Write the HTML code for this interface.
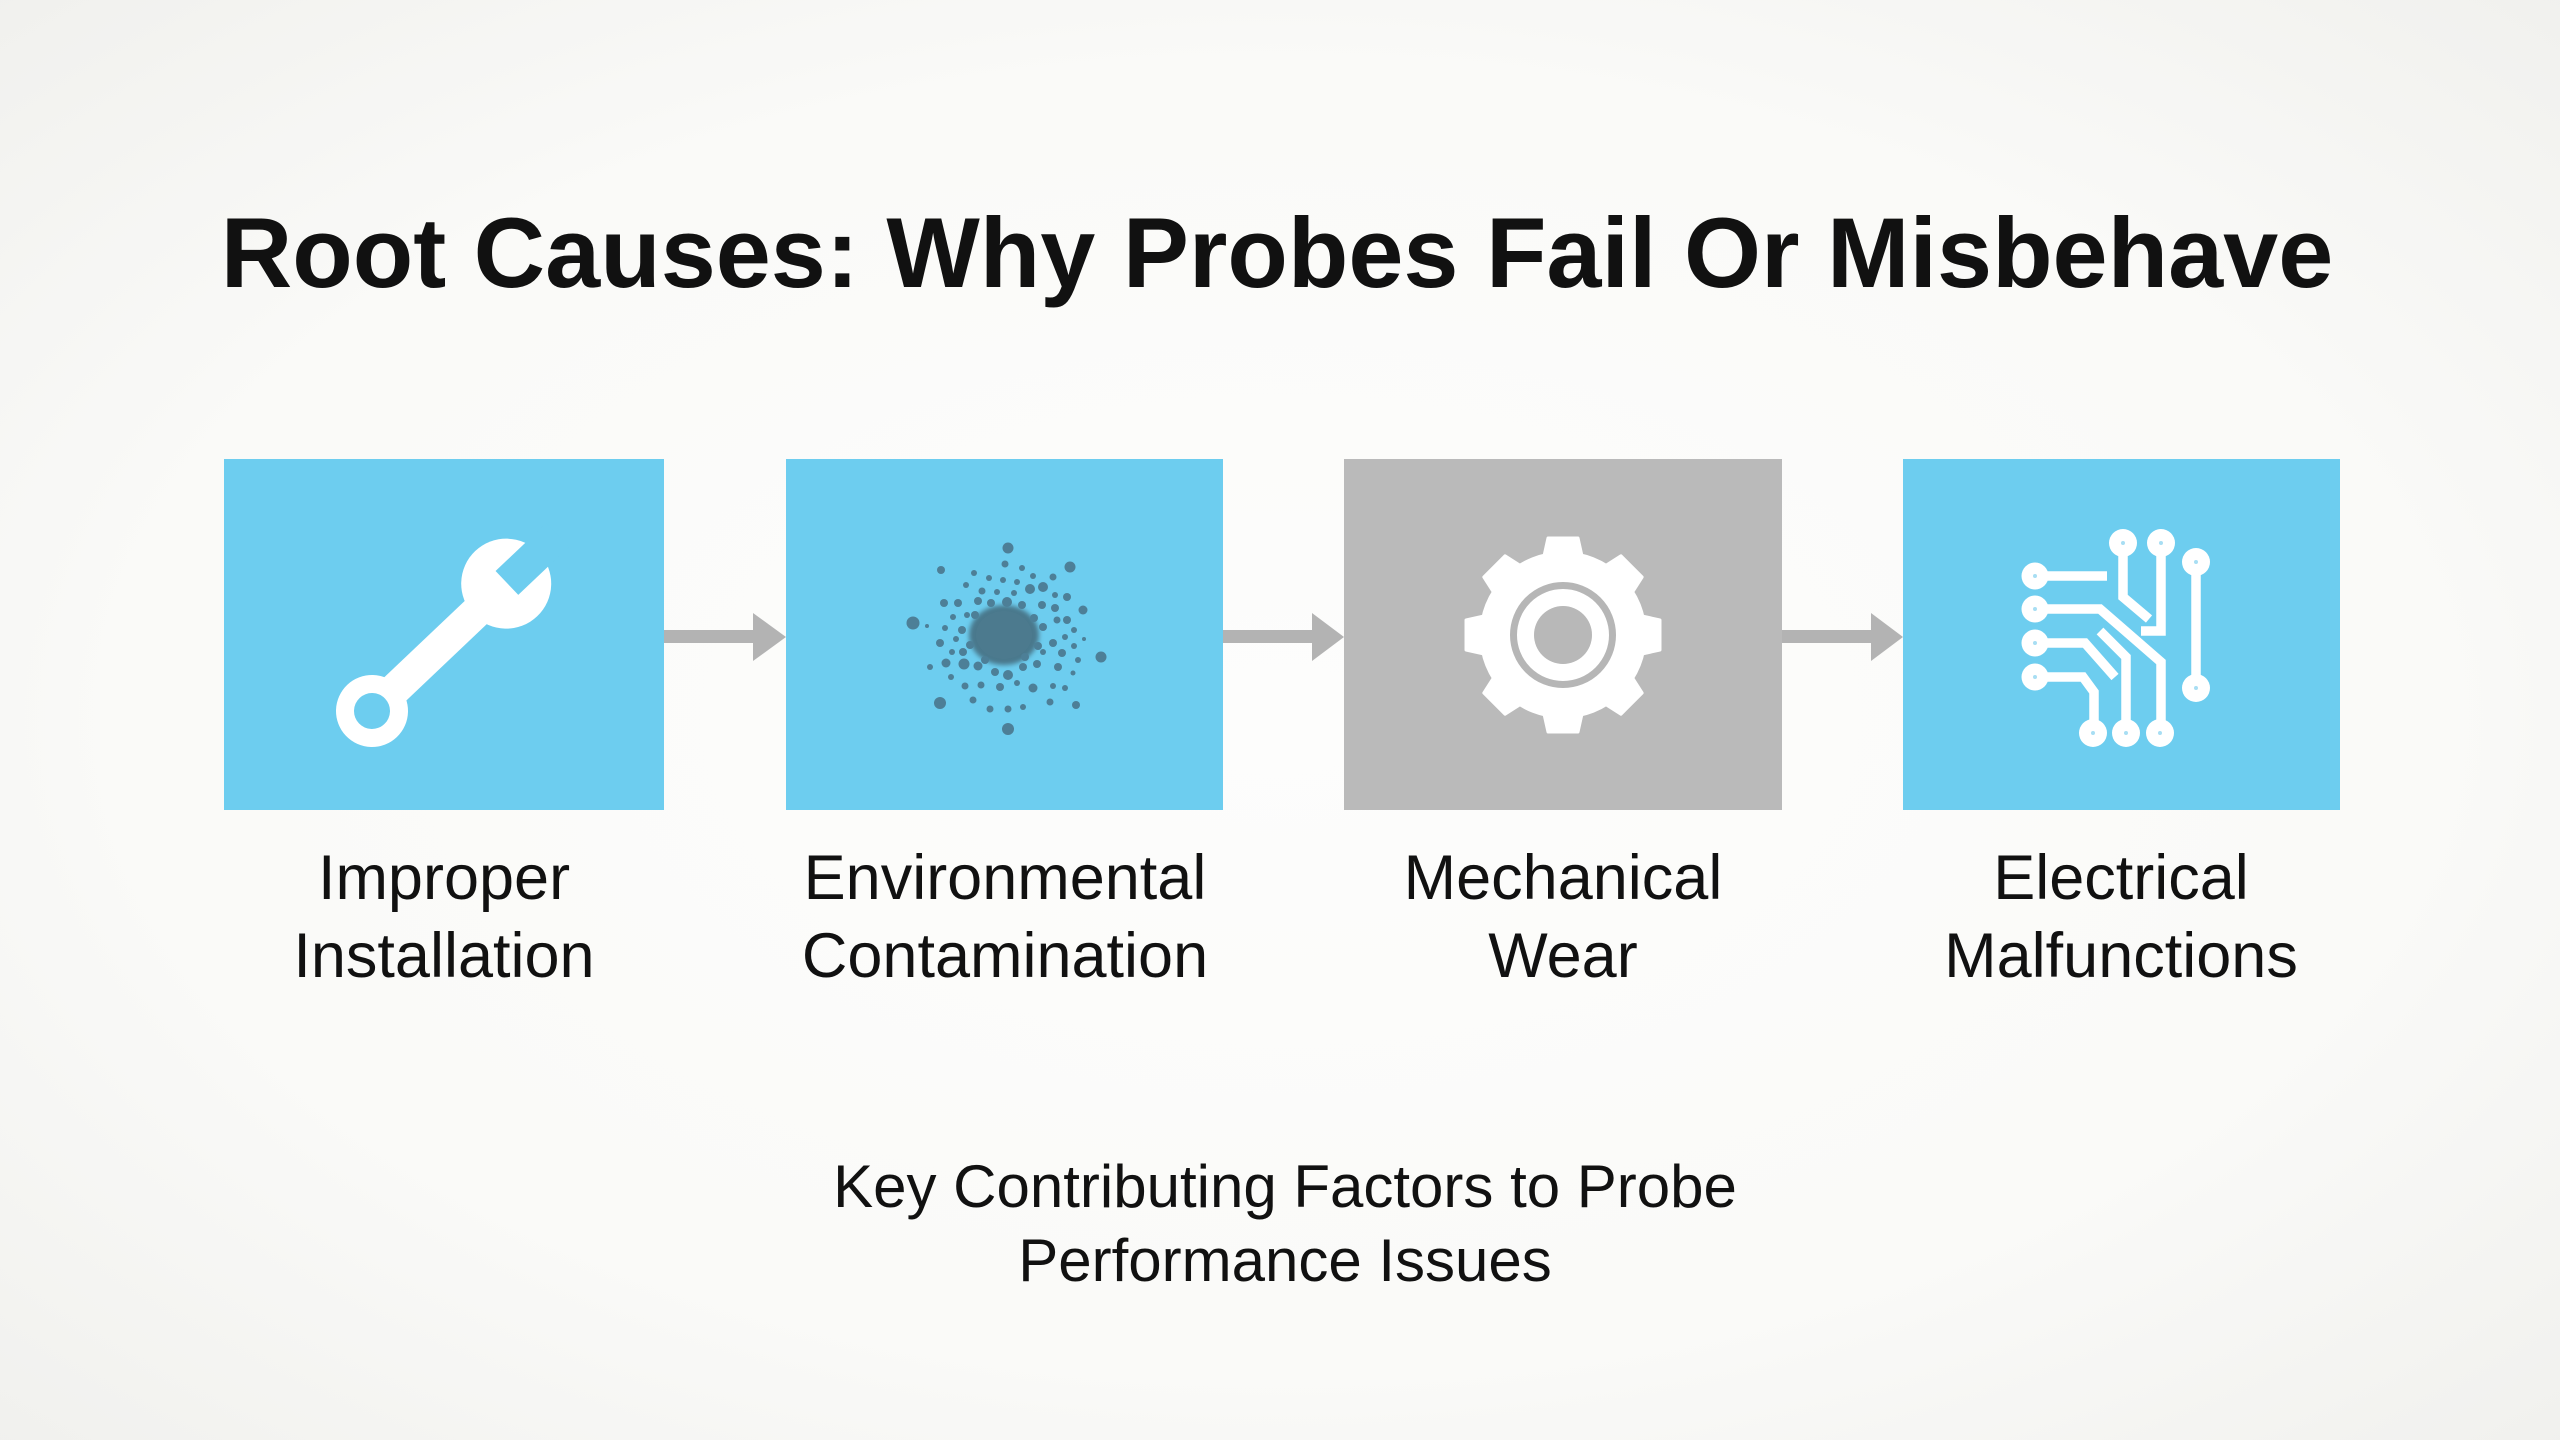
<!DOCTYPE html>
<html>
<head>
<meta charset="utf-8">
<style>
  html,body{margin:0;padding:0;width:2560px;height:1440px;overflow:hidden;background:#f8f8f6;}
  svg{display:block;}
  text{font-family:"Liberation Sans", Arial, sans-serif;fill:#111;}
</style>
</head>
<body>
<svg width="2560" height="1440" viewBox="0 0 2560 1440" xmlns="http://www.w3.org/2000/svg">
  <defs>
    <radialGradient id="bg" cx="50%" cy="50%" r="75%">
      <stop offset="0" stop-color="#fdfdfc"/>
      <stop offset="0.6" stop-color="#fafaf8"/>
      <stop offset="1" stop-color="#efefec"/>
    </radialGradient>
    <filter id="blur3" x="-50%" y="-50%" width="200%" height="200%">
      <feGaussianBlur stdDeviation="2.5"/>
    </filter>
  </defs>
  <rect x="0" y="0" width="2560" height="1440" fill="url(#bg)"/>

  <text x="1277" y="287" text-anchor="middle" font-size="99" font-weight="bold">Root Causes: Why Probes Fail Or Misbehave</text>

  <rect x="224" y="459" width="440" height="351" fill="#6dcdef"/>
  <rect x="786" y="459" width="437" height="351" fill="#6dcdef"/>
  <rect x="1344" y="459" width="438" height="351" fill="#bababa"/>
  <rect x="1903" y="459" width="437" height="351" fill="#6dcdef"/>

  <g fill="#b3b3b3">
    <rect x="664" y="630" width="92" height="13"/>
    <polygon points="753,613 786,637 753,661"/>
    <rect x="1223" y="630" width="92" height="13"/>
    <polygon points="1312,613 1344,637 1312,661"/>
    <rect x="1782" y="630" width="92" height="13"/>
    <polygon points="1871,613 1903,637 1871,661"/>
  </g>

  <g transform="translate(372,711) rotate(-43.5)">
    <circle cx="0" cy="0" r="36" fill="#ffffff"/>
    <rect x="20" y="-16" width="170" height="32" fill="#ffffff"/>
    <circle cx="185" cy="0" r="45" fill="#ffffff"/>
    <rect x="186" y="-16.5" width="70" height="33" fill="#6dcdef"/>
    <circle cx="0" cy="0" r="18" fill="#6dcdef"/>
  </g>

  <g fill="#4d7f97">
    <ellipse cx="1004" cy="635" rx="35" ry="30" fill="#4a788c" filter="url(#blur3)"/>
    <ellipse cx="1004" cy="635" rx="28" ry="24" fill="#4c7a8e" opacity="0.9"/>
    <circle cx="1008" cy="548" r="5.5"/>
    <circle cx="941" cy="570" r="4"/>
    <circle cx="1070" cy="567" r="5.5"/>
    <circle cx="1005" cy="564" r="3.5"/>
    <circle cx="1022" cy="568" r="3"/>
    <circle cx="974" cy="573" r="3"/>
    <circle cx="989" cy="578" r="3"/>
    <circle cx="1003" cy="580" r="3"/>
    <circle cx="1017" cy="582" r="3"/>
    <circle cx="1033" cy="576" r="3"/>
    <circle cx="1053" cy="577" r="3.5"/>
    <circle cx="966" cy="585" r="3"/>
    <circle cx="982" cy="591" r="3.5"/>
    <circle cx="997" cy="592" r="3"/>
    <circle cx="1014" cy="593" r="3"/>
    <circle cx="1030" cy="589" r="5"/>
    <circle cx="1043" cy="587" r="5"/>
    <circle cx="1055" cy="595" r="3"/>
    <circle cx="1067" cy="597" r="4"/>
    <circle cx="944" cy="603" r="4"/>
    <circle cx="958" cy="603" r="4"/>
    <circle cx="978" cy="601" r="4"/>
    <circle cx="991" cy="603" r="4"/>
    <circle cx="1007" cy="602" r="5"/>
    <circle cx="1022" cy="605" r="4"/>
    <circle cx="1042" cy="605" r="4"/>
    <circle cx="1055" cy="608" r="4"/>
    <circle cx="1083" cy="610" r="4.5"/>
    <circle cx="913" cy="623" r="6.5"/>
    <circle cx="927" cy="626" r="2"/>
    <circle cx="953" cy="617" r="3"/>
    <circle cx="967" cy="615" r="3"/>
    <circle cx="945" cy="628" r="3"/>
    <circle cx="962" cy="630" r="4"/>
    <circle cx="1043" cy="627" r="4"/>
    <circle cx="1057" cy="620" r="3.5"/>
    <circle cx="1067" cy="620" r="4"/>
    <circle cx="1074" cy="630" r="3"/>
    <circle cx="940" cy="643" r="4"/>
    <circle cx="956" cy="639" r="3"/>
    <circle cx="1053" cy="643" r="4"/>
    <circle cx="1065" cy="637" r="3"/>
    <circle cx="1084" cy="639" r="2"/>
    <circle cx="1074" cy="646" r="3"/>
    <circle cx="963" cy="652" r="4"/>
    <circle cx="952" cy="652" r="3"/>
    <circle cx="1043" cy="652" r="3"/>
    <circle cx="1062" cy="653" r="4"/>
    <circle cx="1078" cy="660" r="3"/>
    <circle cx="1101" cy="657" r="5.5"/>
    <circle cx="930" cy="667" r="3"/>
    <circle cx="946" cy="663" r="4.5"/>
    <circle cx="964" cy="664" r="5.5"/>
    <circle cx="978" cy="666" r="4.5"/>
    <circle cx="995" cy="672" r="4"/>
    <circle cx="1008" cy="675" r="5"/>
    <circle cx="1023" cy="667" r="4"/>
    <circle cx="1037" cy="664" r="4"/>
    <circle cx="1058" cy="667" r="4"/>
    <circle cx="1073" cy="673" r="2.5"/>
    <circle cx="951" cy="677" r="3"/>
    <circle cx="965" cy="686" r="3.5"/>
    <circle cx="981" cy="685" r="3.5"/>
    <circle cx="1000" cy="687" r="4"/>
    <circle cx="1017" cy="683" r="3"/>
    <circle cx="1033" cy="688" r="4.5"/>
    <circle cx="1053" cy="686" r="3"/>
    <circle cx="1065" cy="688" r="3"/>
    <circle cx="940" cy="703" r="6"/>
    <circle cx="973" cy="700" r="3.5"/>
    <circle cx="990" cy="709" r="3.5"/>
    <circle cx="1008" cy="709" r="3.5"/>
    <circle cx="1023" cy="707" r="3"/>
    <circle cx="1050" cy="702" r="3.5"/>
    <circle cx="1076" cy="705" r="4"/>
    <circle cx="1008" cy="729" r="6"/>
    <circle cx="975" cy="615" r="4"/>
    <circle cx="1034" cy="618" r="4"/>
    <circle cx="970" cy="645" r="4"/>
    <circle cx="1038" cy="646" r="4"/>
    <circle cx="985" cy="660" r="4"/>
    <circle cx="1025" cy="657" r="4"/>
  </g>

  <g transform="translate(1563,635)" fill="#ffffff" stroke="#ffffff" stroke-width="3" stroke-linejoin="round">
    <circle cx="0" cy="0" r="82"/>
    <polygon points="-21,-70 -15,-97 15,-97 21,-70"/>
    <polygon points="-21,-70 -15,-97 15,-97 21,-70" transform="rotate(45)"/>
    <polygon points="-21,-70 -15,-97 15,-97 21,-70" transform="rotate(90)"/>
    <polygon points="-21,-70 -15,-97 15,-97 21,-70" transform="rotate(135)"/>
    <polygon points="-21,-70 -15,-97 15,-97 21,-70" transform="rotate(180)"/>
    <polygon points="-21,-70 -15,-97 15,-97 21,-70" transform="rotate(225)"/>
    <polygon points="-21,-70 -15,-97 15,-97 21,-70" transform="rotate(270)"/>
    <polygon points="-21,-70 -15,-97 15,-97 21,-70" transform="rotate(315)"/>
  </g>
  <circle cx="1563" cy="635" r="49.5" fill="none" stroke="#b6b6b6" stroke-width="7"/>
  <circle cx="1563" cy="635" r="29" fill="#b8b8b8"/>

  <g fill="none" stroke="#ffffff" stroke-width="9.5" stroke-linecap="butt" stroke-linejoin="miter">
    <polyline points="2035,576 2107,576"/>
    <polyline points="2123,543 2123,597 2149,619"/>
    <polyline points="2161,543 2161,631 2141,631"/>
    <polyline points="2196,562 2196,688"/>
    <polyline points="2035,609 2100,609 2161,662 2161,733"/>
    <polyline points="2035,643 2085,643 2115,677"/>
    <polyline points="2100,631 2126,657 2126,733"/>
    <polyline points="2035,677 2083,677 2094,692 2094,733"/>
  </g>
  <g fill="#ffffff">
    <circle cx="2123" cy="543" r="14"/>
    <circle cx="2161" cy="543" r="14"/>
    <circle cx="2196" cy="562" r="14"/>
    <circle cx="2196" cy="688" r="14"/>
    <circle cx="2035" cy="576" r="13.5"/>
    <circle cx="2035" cy="609" r="13.5"/>
    <circle cx="2035" cy="643" r="13.5"/>
    <circle cx="2035" cy="677" r="13.5"/>
    <circle cx="2093" cy="733" r="14"/>
    <circle cx="2126" cy="733" r="14"/>
    <circle cx="2160" cy="733" r="14"/>
  </g>
  <g fill="#a8def3">
    <circle cx="2123" cy="543" r="2"/>
    <circle cx="2161" cy="543" r="2"/>
    <circle cx="2196" cy="562" r="2"/>
    <circle cx="2196" cy="688" r="2"/>
    <circle cx="2035" cy="576" r="2"/>
    <circle cx="2035" cy="609" r="2"/>
    <circle cx="2035" cy="643" r="2"/>
    <circle cx="2035" cy="677" r="2"/>
    <circle cx="2093" cy="733" r="2"/>
    <circle cx="2126" cy="733" r="2"/>
    <circle cx="2160" cy="733" r="2"/>
  </g>

  <g font-size="63" text-anchor="middle">
    <text x="444" y="899">Improper</text>
    <text x="444" y="977">Installation</text>
    <text x="1005" y="899">Environmental</text>
    <text x="1005" y="977">Contamination</text>
    <text x="1563" y="899">Mechanical</text>
    <text x="1563" y="977">Wear</text>
    <text x="2121" y="899">Electrical</text>
    <text x="2121" y="977">Malfunctions</text>
  </g>

  <g font-size="60" text-anchor="middle">
    <text x="1285" y="1207">Key Contributing Factors to Probe</text>
    <text x="1285" y="1281">Performance Issues</text>
  </g>
</svg>
</body>
</html>
